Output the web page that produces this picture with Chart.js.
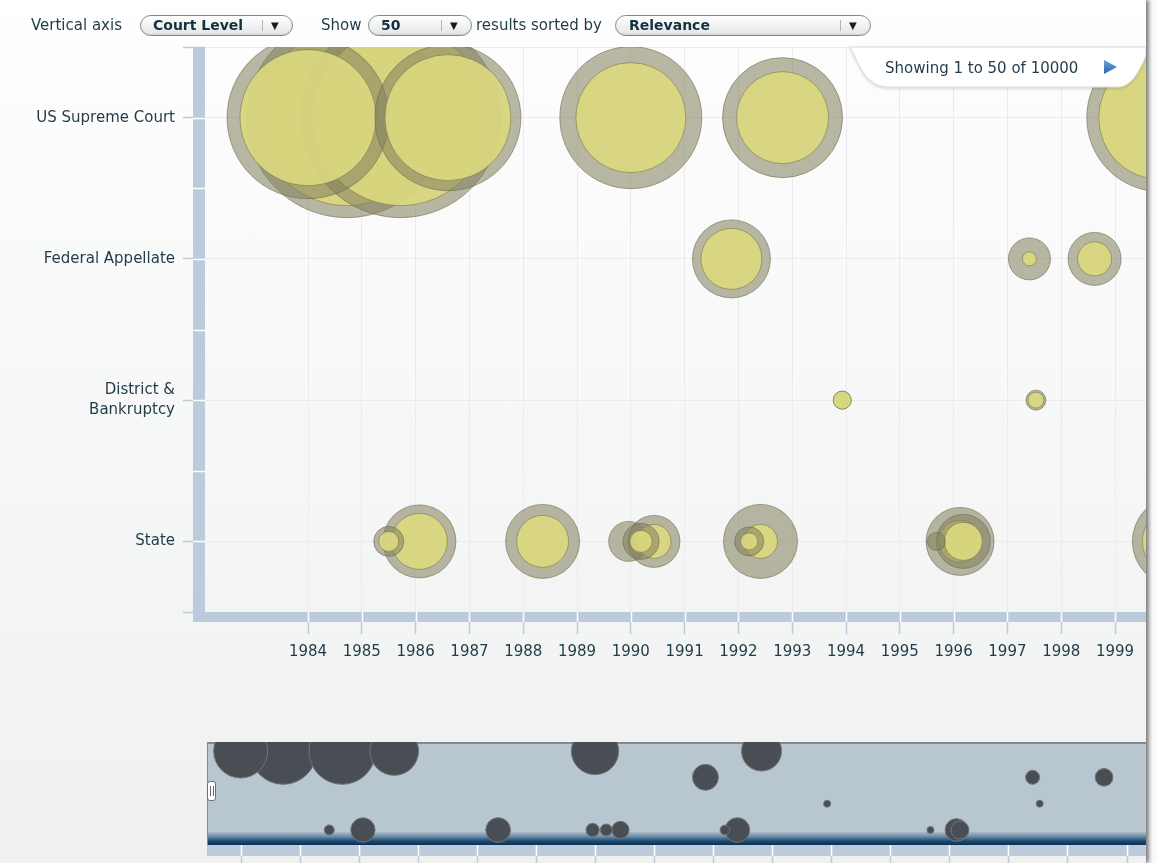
<!DOCTYPE html>
<html>
<head>
<meta charset="utf-8">
<script src="https://cdn.jsdelivr.net/npm/chart.js@4.4.0/dist/chart.umd.min.js"></script>
<style>
body { margin: 0; width: 1157px; height: 863px; background: #fafafa; font-family: "DejaVu Sans", Verdana, sans-serif; overflow: hidden; }
#panel { position: absolute; left: 0; top: 0; width: 1146px; height: 863px; background: linear-gradient(#ffffff 0px, #fdfdfd 60px, #f3f4f4 620px, #eff0f0 863px); box-shadow: 3px 0 4px rgba(0,0,0,0.5); overflow: hidden; }
.lbl { position: absolute; top: 16px; font-size: 15px; line-height: 18px; color: #1f3b48; }
.pill { position: absolute; top: 15px; height: 21px; border: 1px solid #7f888d; border-radius: 11px; background: linear-gradient(#ffffff, #e3e5e6); box-sizing: border-box; box-shadow: inset 0 -1px 1px rgba(0,0,0,0.08); }
.pill b { position: absolute; top: 1px; font-size: 14px; line-height: 17px; color: #15313e; }
.pill .sep { position: absolute; top: 4px; width: 1px; height: 11px; background: #b5b5b5; }
.pill .arr { position: absolute; top: 2px; font-size: 10px; line-height: 15px; color: #1b1b1b; }
#mainWrap { position: absolute; left: 0; top: 0; width: 1146px; height: 700px; }
#ovWrap { position: absolute; left: 207px; top: 742px; width: 939px; height: 121px; }
#handle { position: absolute; left: 207px; top: 781px; width: 9px; height: 20px; border: 1px solid #6e6e6e; border-radius: 3px; background: #fff; box-sizing: border-box; }
#handle i { position: absolute; top: 4px; width: 1px; height: 10px; background: #666; }
#tab { position: absolute; left: 0; top: 0; }
</style>
</head>
<body>
<div id="panel">
  <div id="mainWrap"><canvas id="mainChart"></canvas></div>
  <div id="ovWrap"><canvas id="ovChart"></canvas></div>
  <div id="handle"><i style="left:2px"></i><i style="left:5px"></i></div>

  <div class="lbl" style="left:31px">Vertical axis</div>
  <div class="pill" style="left:140px;width:153px"><b style="left:12px">Court Level</b><span class="sep" style="left:121px"></span><span class="arr" style="left:130px">&#9660;</span></div>
  <div class="lbl" style="left:321px">Show</div>
  <div class="pill" style="left:368px;width:104px"><b style="left:12px">50</b><span class="sep" style="left:72px"></span><span class="arr" style="left:81px">&#9660;</span></div>
  <div class="lbl" style="left:476px">results sorted by</div>
  <div class="pill" style="left:615px;width:256px"><b style="left:13px">Relevance</b><span class="sep" style="left:224px"></span><span class="arr" style="left:233px">&#9660;</span></div>

  <svg id="tab" width="1146" height="100">
    <defs>
      <filter id="sh" x="-5%" y="-20%" width="110%" height="160%">
        <feDropShadow dx="0" dy="1" stdDeviation="1.5" flood-color="#000" flood-opacity="0.18"/>
      </filter>
      <linearGradient id="tri" x1="0" y1="0" x2="0" y2="1">
        <stop offset="0" stop-color="#6aa3d8"/>
        <stop offset="1" stop-color="#2d68a8"/>
      </linearGradient>
    </defs>
    <path d="M850,47 C861,68 866,87 889,87 L1118,87 C1131,87 1139,72 1146,56 L1146,47 Z" fill="#ffffff" stroke="#d6d8d9" stroke-width="1" filter="url(#sh)"/>
    <text x="885" y="73" font-family="DejaVu Sans, Verdana, sans-serif" font-size="15" fill="#1f3b48">Showing 1 to 50 of 10000</text>
    <polygon points="1104,60 1117,67 1104,74" fill="url(#tri)"/>
  </svg>
</div>

<script>
const years = [1984, 1985, 1986, 1987, 1988, 1989, 1990, 1991, 1992, 1993, 1994, 1995, 1996, 1997, 1998, 1999];
const courtLevels = ['US Supreme Court', 'Federal Appellate', ['District &', 'Bankruptcy'], 'State'];

// one entry per case, in drawing order
const caseYear  = [1984.72, 1985.72, 1984.0, 1986.6, 1990.0, 1992.82, 1999.85,
                   1991.87, 1997.41, 1998.62,
                   1993.93, 1997.53,
                   1986.07, 1985.5, 1988.36, 1989.96, 1990.43, 1990.19, 1992.41, 1992.2, 1996.12, 1996.18, 1995.68, 2000.16];
const caseCourt = [0, 0, 0, 0, 0, 0, 0,
                   1, 1, 1,
                   2, 2,
                   3, 3, 3, 3, 3, 3, 3, 3, 3, 3, 3, 3];
const citedBy   = [100, 100, 81, 73, 71, 60, 74,
                   39, 21, 26.5,
                   9, 10,
                   36.5, 15, 37, 20, 26, 18, 37, 14.5, 34, 27, 9, 45];
const cites     = [88, 88, 68, 63, 55, 46, 62,
                   30.5, 7, 17,
                   9, 8,
                   28, 10, 26, 0, 17, 11, 17, 8.5, 21, 19, 0, 35];

const FONT = "'DejaVu Sans', Verdana, sans-serif";
const TEXT = '#1f3b48';
const BAND = '#bccbdb';

// outer ring then inner disc for each case, so overlaps stack per case
const mainPoints = [];
caseYear.forEach((yr, i) => {
    mainPoints.push({ x: yr, y: caseCourt[i], r: citedBy[i] });
    mainPoints.push({ x: yr, y: caseCourt[i], r: cites[i] });
});

const axisBands = {
    id: 'axisBands',
    beforeDatasetsDraw(chart) {
        const { ctx, chartArea: a, scales: { x, y } } = chart;
        ctx.save();
        ctx.fillStyle = BAND;
        ctx.fillRect(a.left - 12, a.top, 12, a.bottom - a.top);
        ctx.fillRect(a.left - 12, a.bottom, a.right - a.left + 12, 10);
        ctx.strokeStyle = '#ffffff';
        ctx.lineWidth = 1.5;
        ctx.beginPath();
        for (let v = 0; v <= 3; v += 0.5) {
            const py = Math.round(y.getPixelForValue(v)) + 0.5;
            ctx.moveTo(a.left - 12, py);
            ctx.lineTo(a.left, py);
        }
        years.forEach(yr => {
            const px = Math.round(x.getPixelForValue(yr)) + 0.5;
            ctx.moveTo(px, a.bottom);
            ctx.lineTo(px, a.bottom + 10);
        });
        ctx.stroke();
        ctx.restore();
    }
};

new Chart(document.getElementById('mainChart'), {
    type: 'bubble',
    data: {
        datasets: [{
            data: mainPoints,
            backgroundColor: c => c.dataIndex % 2 ? 'rgba(219,217,127,0.9)' : 'rgba(130,128,95,0.56)',
            borderColor: c => c.dataIndex % 2 ? 'rgba(120,118,70,0.6)' : 'rgba(100,98,72,0.55)',
            borderWidth: 1,
            clip: 0
        }]
    },
    options: {
        responsive: true,
        maintainAspectRatio: false,
        animation: false,
        events: [],
        layout: { autoPadding: false, padding: { top: 47, left: 0, right: 0, bottom: 0 } },
        plugins: { legend: { display: false }, tooltip: { enabled: false } },
        scales: {
            x: {
                type: 'linear',
                min: 1982.085,
                max: 1999.576,
                afterBuildTicks: s => { s.ticks = years.map(v => ({ value: v })); },
                afterFit: s => { s.height = 88; },
                ticks: {
                    callback: v => String(v),
                    autoSkip: false,
                    maxRotation: 0,
                    padding: 9,
                    color: TEXT,
                    font: { family: FONT, size: 15 }
                },
                grid: { color: '#ebebeb', tickColor: BAND, tickLength: 22, tickWidth: 1.5 },
                border: { display: false }
            },
            y: {
                type: 'linear',
                reverse: true,
                min: -0.5,
                max: 3.5,
                afterBuildTicks: s => { s.ticks = [-0.5, 0, 1, 2, 3, 3.5].map(v => ({ value: v })); },
                afterFit: s => { s.width = 205; },
                ticks: {
                    callback: v => Number.isInteger(v) ? courtLevels[v] : '',
                    autoSkip: false,
                    padding: 8,
                    color: TEXT,
                    font: { family: FONT, size: 15, lineHeight: 1.33 }
                },
                grid: { color: '#ebebeb', tickColor: BAND, tickLength: 22, tickWidth: 1.5 },
                border: { display: false }
            }
        }
    },
    plugins: [axisBands]
});

const overviewBands = {
    id: 'overviewBands',
    beforeDatasetsDraw(chart) {
        const { ctx, chartArea: a } = chart;
        ctx.save();
        ctx.fillStyle = '#b8c6d0';
        ctx.fillRect(a.left, a.top, a.right - a.left, a.bottom - a.top);
        const g = ctx.createLinearGradient(0, a.bottom - 13, 0, a.bottom);
        g.addColorStop(0, '#a9bccb');
        g.addColorStop(0.35, '#6c8ca7');
        g.addColorStop(0.7, '#1d4a70');
        g.addColorStop(1, '#0a2f52');
        ctx.fillStyle = g;
        ctx.fillRect(a.left, a.bottom - 13, a.right - a.left, 13);
        ctx.fillStyle = '#85898c';
        ctx.fillRect(a.left, a.top, a.right - a.left, 2);
        ctx.fillRect(a.left, a.top, 1, a.bottom - a.top);
        ctx.restore();
    },
    afterDraw(chart) {
        const { ctx, chartArea: a, scales: { x } } = chart;
        ctx.save();
        ctx.fillStyle = BAND;
        ctx.fillRect(a.left, a.bottom, a.right - a.left, 11);
        ctx.lineWidth = 1.5;
        years.forEach(yr => {
            const px = Math.round(x.getPixelForValue(yr)) + 0.5;
            ctx.strokeStyle = '#ffffff';
            ctx.beginPath(); ctx.moveTo(px, a.bottom); ctx.lineTo(px, a.bottom + 11); ctx.stroke();
            ctx.strokeStyle = BAND;
            ctx.beginPath(); ctx.moveTo(px, a.bottom + 11); ctx.lineTo(px, a.bottom + 20); ctx.stroke();
        });
        ctx.restore();
    }
};

new Chart(document.getElementById('ovChart'), {
    type: 'bubble',
    data: {
        datasets: [{
            data: caseYear.map((yr, i) => ({ x: yr, y: caseCourt[i], r: Math.max(citedBy[i] / 3, 3.5) })),
            backgroundColor: '#494e54',
            borderColor: '#6f757b',
            borderWidth: 1,
            clip: 0
        }]
    },
    options: {
        responsive: true,
        maintainAspectRatio: false,
        animation: false,
        events: [],
        layout: { autoPadding: false, padding: { top: 0, left: 0, right: 0, bottom: 18 } },
        plugins: { legend: { display: false }, tooltip: { enabled: false } },
        scales: {
            x: { type: 'linear', display: false, min: 1983.43, max: 1999.33 },
            y: { type: 'linear', display: false, reverse: true, min: -0.342, max: 3.57 }
        }
    },
    plugins: [overviewBands]
});
</script>
</body>
</html>
